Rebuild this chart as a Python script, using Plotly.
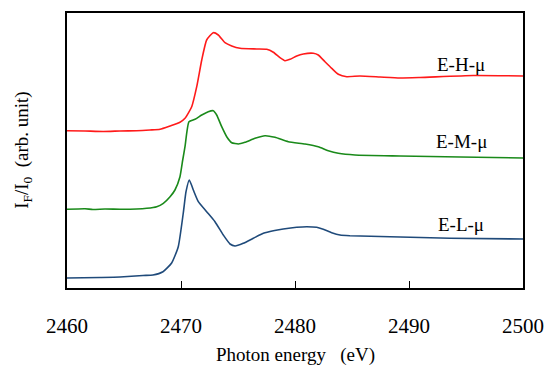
import plotly.graph_objects as go

# Photon energy (eV) and intensity (arb. unit, offset stacked)
h_energy = [2460.0, 2461.58, 2463.18, 2464.65, 2466.11, 2467.28, 2468.16, 2469.04, 2469.91, 2470.35,
            2470.94, 2471.38, 2471.82, 2472.25, 2472.83, 2473.27, 2473.86, 2474.45, 2475.18, 2476.64,
            2477.52, 2478.10, 2478.68, 2479.12, 2479.56, 2480.15, 2480.73, 2481.61, 2482.04, 2482.63,
            2483.22, 2483.80, 2484.54, 2485.70, 2487.46, 2489.2, 2490.96, 2495.64, 2500.0]
h_values = [157.3, 157, 156.5, 157, 157.3, 158, 158.7, 162, 165.7, 169.7,
            181.3, 201.3, 228, 248, 255.3, 253, 245.3, 242, 239.7, 239,
            238.7, 235.7, 230.3, 227.3, 228.7, 232, 234, 234.7, 233, 226.3,
            219.7, 213.7, 211.3, 212, 211, 210, 210.5, 212.5, 212]

m_energy = [2460.0, 2461.58, 2462.28, 2463.33, 2464.65, 2466.11, 2467.0, 2467.87, 2468.45, 2469.04,
            2469.47, 2469.91, 2470.15, 2470.35, 2470.70, 2471.23, 2471.82, 2472.39, 2472.83, 2473.13,
            2473.57, 2474.01, 2474.45, 2475.03, 2475.61, 2476.49, 2477.37, 2478.25, 2479.41, 2480.88,
            2482.04, 2482.92, 2483.80, 2485.26, 2489.2, 2494.5, 2500.0]
m_values = [78.7, 79.2, 78.5, 79, 78.8, 79, 79.7, 81.3, 84.7, 91.3,
            98, 111.3, 128, 141.3, 166.3, 168.7, 173, 176.3, 177.3, 173,
            161.3, 151.3, 145.3, 144, 145.7, 149.7, 152.3, 150.7, 146.3, 144,
            141.3, 137.3, 134.7, 133, 132, 131, 130]

l_energy = [2460.0, 2462.9, 2464.65, 2466.67, 2467.54, 2468.42, 2469.18, 2469.76, 2470.20, 2470.44,
            2470.73, 2471.08, 2471.52, 2472.25, 2472.98, 2473.71, 2474.30, 2474.74, 2475.46, 2476.34,
            2477.22, 2478.10, 2478.97, 2480.15, 2481.03, 2481.90, 2482.48, 2483.22, 2483.95, 2484.82,
            2488.33, 2493.60, 2500.0]
l_values = [10, 10.5, 11, 12.5, 13, 16.3, 25, 41.3, 75, 96.3,
            108, 98, 86.3, 76.3, 66.3, 53, 44, 42, 44.7, 49.7,
            54.7, 57.3, 59, 60.7, 61.3, 60.7, 58.7, 55.3, 53, 52.3,
            51.3, 49.7, 49]

series_names = ["E-H-\u03bc", "E-M-\u03bc", "E-L-\u03bc"]
x_ticks = [2460, 2470, 2480, 2490, 2500]

font_family = "Liberation Serif"

fig = go.Figure()
for name, xs, ys, col in [
    (series_names[0], h_energy, h_values, "#FF1A1A"),
    (series_names[1], m_energy, m_values, "#1A8A1A"),
    (series_names[2], l_energy, l_values, "#1F4A7A"),
]:
    fig.add_trace(go.Scatter(x=xs, y=ys, mode="lines", name=name,
                             line=dict(color=col, width=1.6, shape="spline", smoothing=0.5),
                             showlegend=False))

label_pos = [(2494.6, 224), (2494.6, 147), (2494.6, 64)]
for name, (lx, ly) in zip(series_names, label_pos):
    fig.add_annotation(x=lx, y=ly, text=name, showarrow=False,
                       font=dict(family=font_family, size=19, color="black"),
                       xanchor="center", yanchor="middle")

fig.add_annotation(xref="paper", yref="paper", x=0.5, y=-0.245, text="Photon energy\u00a0\u00a0\u00a0(eV)",
                   showarrow=False, font=dict(family=font_family, size=19, color="black"),
                   xanchor="center", yanchor="middle")
fig.add_annotation(xref="paper", yref="paper", x=-0.098, y=0.5,
                   text="I<sub>F</sub>/I<sub>0</sub>\u00a0\u00a0(arb. unit)", textangle=-90,
                   showarrow=False, font=dict(family=font_family, size=19, color="black"),
                   xanchor="center", yanchor="middle")

fig.update_layout(
    width=549, height=365,
    margin=dict(l=67, r=26, t=13, b=77, autoexpand=False),
    paper_bgcolor="white", plot_bgcolor="white",
    font=dict(family=font_family, size=21, color="black"),
)
fig.update_xaxes(range=[2460, 2500], tickvals=x_ticks, ticktext=[str(t) for t in x_ticks],
                 ticks="inside", ticklen=7, tickwidth=1.2, tickcolor="black",
                 showline=True, linecolor="black", linewidth=2, mirror=True,
                 showgrid=False, zeroline=False, ticklabelstandoff=18, automargin=False,
                 tickfont=dict(family=font_family, size=21, color="black"))
fig.update_yaxes(range=[0, 275], showticklabels=False, ticks="", automargin=False,
                 showline=True, linecolor="black", linewidth=2, mirror=True,
                 showgrid=False, zeroline=False)

fig.write_html("out.html", config={"displayModeBar": False},
               post_script="document.body.style.margin='0';document.body.style.overflow='hidden';")
